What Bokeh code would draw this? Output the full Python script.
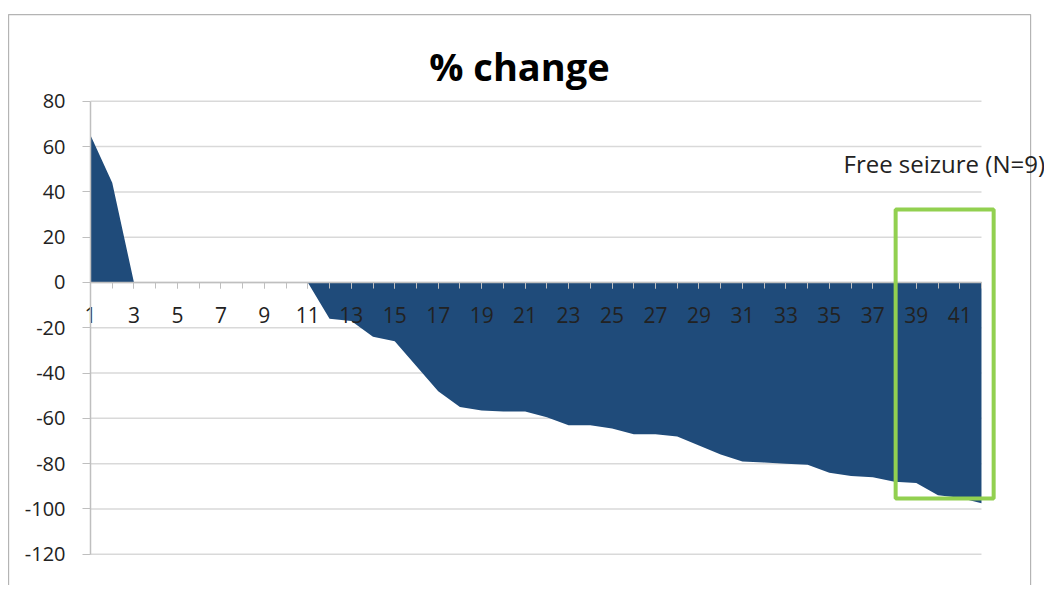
from bokeh.plotting import figure
from bokeh.models import FixedTicker, Label, BoxAnnotation, Range1d
from bokeh.embed import file_html
from bokeh.resources import INLINE

# ---- data ----
categories = list(range(1, 43))
pct_change = [65, 44, 0, 0, 0, 0, 0, 0, 0, 0, 0,
              -16, -17, -24, -26, -37, -48, -55, -56.5, -57, -57,
              -59.5, -63, -63, -64.5, -67, -67, -68, -72, -76, -79,
              -79.5, -80, -80.5, -84, -85.5, -86, -88, -88.5, -94, -95, -97.5]
y_ticks = [-120, -100, -80, -60, -40, -20, 0, 20, 40, 60, 80]
y_tick_labels = [str(v) for v in y_ticks]
x_label_ticks = [c for c in categories if c % 2 == 1]
title_text = "% change"
note_text = "Free seizure (N=9)"
free_first, free_last = 38, 42
box_top, box_bottom = 32.2, -95.4

FONT = "Open Sans"
AREA = "#1f4b7a"
GRID = "#d9d9d9"
AXIS = "#bfbfbf"
TXT = "#222222"

W, H = 1044, 585
# frame covers the whole canvas; axes are placed at fixed locations inside it
p = figure(width=W, height=H, output_backend="svg", toolbar_location=None,
           x_range=Range1d(-3.142, 44.90), y_range=Range1d(-133.8, 124.5),
           min_border=0)
p.outline_line_color = None
p.xgrid.visible = False
p.ygrid.visible = False

# chart border
p.add_layout(BoxAnnotation(left=-2.77, right=44.26, top=118.3, bottom=-200,
                           fill_color=None, line_color="#b4b4b4", line_alpha=1,
                           line_width=1.2, level="underlay"))

# grid lines limited to the category span
p.segment(x0=[categories[0]] * len(y_ticks), x1=[categories[-1]] * len(y_ticks),
          y0=y_ticks, y1=y_ticks, line_color=GRID, line_width=1.5)

p.varea(x=categories, y1=[0] * len(categories), y2=pct_change, fill_color=AREA)

# x axis at zero
xa = p.xaxis[0]
xa.fixed_location = 0
xa.bounds = (categories[0], categories[-1])
xa.ticker = FixedTicker(ticks=x_label_ticks, minor_ticks=categories)
xa.axis_line_color = AXIS
xa.axis_line_width = 1.5
xa.major_tick_line_color = AXIS
xa.minor_tick_line_color = AXIS
xa.major_tick_in = 0
xa.major_tick_out = 6
xa.minor_tick_in = 0
xa.minor_tick_out = 6
xa.major_label_standoff = 19
xa.major_label_text_font = FONT
xa.major_label_text_font_size = "21px"
xa.major_label_text_color = TXT

# y axis at first category
ya = p.yaxis[0]
ya.fixed_location = categories[0]
ya.bounds = (y_ticks[0], y_ticks[-1])
ya.ticker = FixedTicker(ticks=y_ticks)
ya.major_label_overrides = dict(zip(y_ticks, y_tick_labels))
ya.axis_line_color = AXIS
ya.axis_line_width = 1.5
ya.major_tick_line_color = AXIS
ya.major_tick_in = 0
ya.major_tick_out = 8
ya.minor_tick_line_color = None
ya.major_label_standoff = 17
ya.major_label_text_font = FONT
ya.major_label_text_font_size = "20px"
ya.major_label_text_color = TXT

# free-seizure box
p.add_layout(BoxAnnotation(left=free_first + 0.05, right=free_last + 0.56,
                           top=box_top, bottom=box_bottom,
                           fill_color=None, line_color="#92d050", line_alpha=1,
                           line_width=4))
p.add_layout(Label(x=35.65, y=52.4, text=note_text, text_font=FONT,
                   text_font_size="24px", text_color=TXT, text_baseline="alphabetic"))

# title
p.add_layout(Label(x=20.74, y=95.8, text=title_text, text_font=FONT,
                   text_font_size="38px", text_font_style="bold", text_color="#000000",
                   text_align="center", text_baseline="alphabetic"))

open("out.html", "w").write(file_html(p, INLINE))
